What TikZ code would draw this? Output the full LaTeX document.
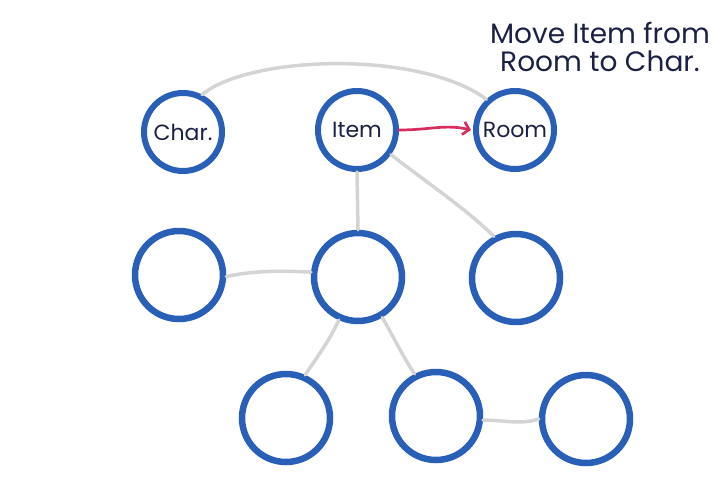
\documentclass[tikz,border=0pt]{standalone}
\usepackage{fontspec}
\setmainfont{Poppins}
\usetikzlibrary{arrows.meta}
\definecolor{nodeblue}{HTML}{2A5FB8}
\definecolor{edgegray}{HTML}{D4D4D4}
\definecolor{ink}{HTML}{1B2145}
\definecolor{arrowred}{HTML}{D62F5E}
\begin{document}
\begin{tikzpicture}[x=1pt,y=-1pt,
  topnode/.style={circle,draw=nodeblue,line width=6pt,minimum size=78pt,inner sep=0pt,text=ink,font=\fontsize{22}{24}\selectfont},
  lownode/.style={circle,draw=nodeblue,line width=6.5pt,minimum size=88pt,inner sep=0pt},
  link/.style={draw=edgegray,line width=3.5pt,line cap=round},
  move/.style={draw=arrowred,line width=2.7pt,line cap=round,-{Straight Barb[length=6pt,width=13pt,line width=2.7pt]}},
  note/.style={text=ink,font=\fontsize{28}{28}\selectfont,align=center}]
\useasboundingbox (0,0) rectangle (720,480);
\node[topnode] (char) at (183,132) {Char.};
\node[topnode] (item) at (357,130) {Item};
\node[topnode] (room) at (515,130) {Room};
\node[lownode] (l2) at (179,275) {};
\node[lownode] (m2) at (358,277) {};
\node[lownode] (r2) at (516,278) {};
\node[lownode] (b1) at (286,418) {};
\node[lownode] (b2) at (436,416) {};
\node[lownode] (b3) at (586,419) {};
\path[link] (char.63) .. controls (250,55) and (420,50) .. (room.133);
\path[link] (item.south) -- (m2.north);
\path[link] (item.-36) .. controls (430,185) and (465,208) .. (r2.118);
\path[link] (l2.-2) .. controls (255,270) and (285,271) .. (m2.174);
\path[link] (m2.246) .. controls (330,340) and (315,360) .. (b1.66);
\path[link] (m2.301) .. controls (395,340) and (405,360) .. (b2.117);
\path[link] (b2.-5) .. controls (505,420) and (520,425) .. (b3.180);
\path[move] (item.east) .. controls (430,130) and (445,124) .. ([xshift=-2pt]room.west);
\node[note] (title) at (600,47) {Move Item from\\Room to Char.};
\end{tikzpicture}
\end{document}
